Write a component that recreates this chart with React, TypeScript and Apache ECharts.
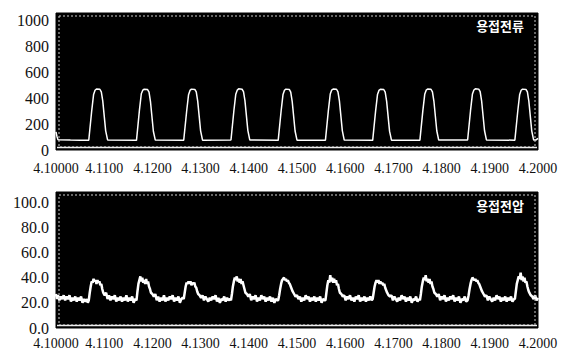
import React, { useEffect, useRef } from "react";
import * as echarts from "echarts";

const xTicks = [4.1, 4.2];
const currentTitle = "용접전류";
const voltageTitle = "용접전압";

const currentPoints: [number, number][] = [
  [4.1, 140], [4.1002, 105], [4.1004, 80], [4.103, 77], [4.105, 76],
  [4.1068, 76], [4.1074, 300], [4.1078, 430], [4.1081, 462], [4.1084, 472], [4.1091, 470], [4.1094, 450], [4.1097, 380], [4.1103, 150], [4.1107, 78],
  [4.1167, 75], [4.1173, 305], [4.1177, 435], [4.118, 463], [4.1183, 470], [4.119, 468], [4.1193, 448], [4.1196, 375], [4.1202, 145], [4.1206, 77],
  [4.1265, 76], [4.1271, 298], [4.1275, 428], [4.1278, 461], [4.1281, 471], [4.1288, 469], [4.1291, 449], [4.1294, 378], [4.13, 148], [4.1304, 76],
  [4.1363, 77], [4.1369, 302], [4.1373, 432], [4.1376, 463], [4.1379, 473], [4.1386, 470], [4.1389, 451], [4.1392, 382], [4.1398, 152], [4.1402, 78],
  [4.1461, 75], [4.1467, 300], [4.1471, 430], [4.1474, 462], [4.1477, 471], [4.1484, 469], [4.1487, 448], [4.149, 377], [4.1496, 147], [4.15, 76],
  [4.1559, 76], [4.1565, 303], [4.1569, 433], [4.1572, 464], [4.1575, 472], [4.1582, 470], [4.1585, 450], [4.1588, 380], [4.1594, 150], [4.1598, 77],
  [4.1657, 75], [4.1663, 299], [4.1667, 429], [4.167, 461], [4.1673, 470], [4.168, 468], [4.1683, 447], [4.1686, 376], [4.1692, 146], [4.1696, 76],
  [4.1755, 76], [4.1761, 301], [4.1765, 431], [4.1768, 463], [4.1771, 472], [4.1778, 470], [4.1781, 449], [4.1784, 379], [4.179, 149], [4.1794, 77],
  [4.1854, 77], [4.186, 304], [4.1864, 434], [4.1867, 464], [4.187, 473], [4.1877, 471], [4.188, 451], [4.1883, 381], [4.1889, 151], [4.1893, 78],
  [4.1952, 76], [4.1958, 300], [4.1962, 430], [4.1965, 462], [4.1968, 471], [4.1975, 469], [4.1978, 449], [4.1981, 378], [4.1987, 148], [4.1991, 77],
  [4.1996, 78], [4.2, 90],
];

const voltagePoints: [number, number][] = [
  [4.1, 27], [4.1002, 23], [4.1004, 26], [4.1007, 22], [4.101, 25], [4.1013, 23], [4.1016, 26], [4.1019, 22], [4.1022, 25], [4.1025, 23],
  [4.1028, 26], [4.1031, 21], [4.1034, 24], [4.1037, 22], [4.104, 25], [4.1043, 21], [4.1046, 24], [4.1049, 22], [4.1052, 25], [4.1055, 20],
  [4.1058, 23], [4.1061, 21], [4.1064, 23], [4.1066, 20],
  [4.1068, 22], [4.107, 28], [4.1072, 33], [4.1074, 37], [4.1076, 36], [4.1078, 39], [4.108, 37], [4.1082, 38], [4.1084, 35], [4.1086, 38],
  [4.1088, 36], [4.109, 37], [4.1092, 34], [4.1094, 35], [4.1096, 31], [4.1098, 28], [4.1101, 26], [4.1104, 28], [4.1107, 23], [4.111, 26],
  [4.1113, 22], [4.1116, 25], [4.1119, 23], [4.1122, 26], [4.1125, 21], [4.1128, 24], [4.1131, 22], [4.1134, 25], [4.1137, 21], [4.114, 24],
  [4.1143, 22], [4.1146, 26], [4.1149, 21], [4.1152, 24], [4.1155, 22], [4.1158, 25], [4.1161, 20], [4.1164, 23],
  [4.1167, 22], [4.1169, 29], [4.1171, 35], [4.1173, 38], [4.1175, 41], [4.1177, 37], [4.1179, 40], [4.1181, 36], [4.1183, 38], [4.1185, 35],
  [4.1187, 39], [4.1189, 35], [4.1191, 37], [4.1193, 33], [4.1195, 31], [4.1197, 28], [4.12, 27], [4.1203, 25], [4.1206, 27], [4.1209, 22],
  [4.1212, 25], [4.1215, 21], [4.1218, 24], [4.1221, 22], [4.1224, 26], [4.1227, 21], [4.123, 24], [4.1233, 22], [4.1236, 25], [4.1239, 23],
  [4.1242, 26], [4.1245, 21], [4.1248, 24], [4.1251, 22], [4.1254, 25], [4.1257, 20], [4.126, 23], [4.1263, 24],
  [4.1265, 23], [4.1267, 28], [4.1269, 33], [4.1271, 36], [4.1273, 35], [4.1275, 37], [4.1277, 35], [4.1279, 37], [4.1281, 34], [4.1283, 36],
  [4.1285, 35], [4.1287, 36], [4.1289, 33], [4.1291, 32], [4.1293, 29], [4.1295, 27], [4.1298, 26], [4.1301, 24], [4.1304, 26], [4.1307, 22],
  [4.131, 25], [4.1313, 23], [4.1316, 21], [4.1319, 24], [4.1322, 22], [4.1325, 25], [4.1328, 23], [4.1331, 26], [4.1334, 21], [4.1337, 24],
  [4.134, 20], [4.1343, 23], [4.1346, 22], [4.1349, 25], [4.1352, 21], [4.1355, 24], [4.1358, 22], [4.1361, 23],
  [4.1363, 22], [4.1365, 27], [4.1367, 33], [4.1369, 37], [4.1371, 40], [4.1373, 38], [4.1375, 41], [4.1377, 37], [4.1379, 39], [4.1381, 36],
  [4.1383, 39], [4.1385, 35], [4.1387, 37], [4.1389, 34], [4.1391, 31], [4.1393, 28], [4.1396, 27], [4.1399, 25], [4.1402, 27], [4.1405, 22],
  [4.1408, 25], [4.1411, 23], [4.1414, 26], [4.1417, 21], [4.142, 24], [4.1423, 22], [4.1426, 26], [4.1429, 23], [4.1432, 25], [4.1435, 21],
  [4.1438, 24], [4.1441, 22], [4.1444, 25], [4.1447, 21], [4.145, 24], [4.1453, 20], [4.1456, 23], [4.1459, 22],
  [4.1461, 22], [4.1463, 26], [4.1465, 31], [4.1467, 35], [4.1469, 38], [4.1471, 39], [4.1473, 40], [4.1475, 38], [4.1477, 39], [4.1479, 37],
  [4.1481, 38], [4.1483, 36], [4.1485, 35], [4.1487, 33], [4.1489, 31], [4.1491, 29], [4.1494, 27], [4.1497, 25], [4.15, 26], [4.1503, 23],
  [4.1506, 25], [4.1509, 21], [4.1512, 24], [4.1515, 22], [4.1518, 26], [4.1521, 23], [4.1524, 25], [4.1527, 21], [4.153, 24], [4.1533, 22],
  [4.1536, 25], [4.1539, 21], [4.1542, 24], [4.1545, 22], [4.1548, 25], [4.1551, 20], [4.1554, 23], [4.1557, 22],
  [4.1559, 22], [4.1561, 28], [4.1563, 34], [4.1565, 38], [4.1567, 36], [4.1569, 42], [4.1571, 37], [4.1573, 40], [4.1575, 36], [4.1577, 39],
  [4.1579, 36], [4.1581, 38], [4.1583, 34], [4.1585, 35], [4.1587, 31], [4.1589, 28], [4.1592, 27], [4.1595, 25], [4.1598, 26], [4.1601, 22],
  [4.1604, 25], [4.1607, 23], [4.161, 26], [4.1613, 22], [4.1616, 24], [4.1619, 21], [4.1622, 25], [4.1625, 23], [4.1628, 26], [4.1631, 21],
  [4.1634, 24], [4.1637, 22], [4.164, 25], [4.1643, 21], [4.1646, 24], [4.1649, 22], [4.1652, 25], [4.1655, 22],
  [4.1657, 23], [4.1659, 28], [4.1661, 33], [4.1663, 36], [4.1665, 38], [4.1667, 36], [4.1669, 38], [4.1671, 35], [4.1673, 37], [4.1675, 35],
  [4.1677, 36], [4.1679, 34], [4.1681, 35], [4.1683, 32], [4.1685, 30], [4.1687, 28], [4.169, 26], [4.1693, 25], [4.1696, 26], [4.1699, 22],
  [4.1702, 25], [4.1705, 23], [4.1708, 21], [4.1711, 24], [4.1714, 22], [4.1717, 26], [4.172, 23], [4.1723, 25], [4.1726, 21], [4.1729, 24],
  [4.1732, 22], [4.1735, 25], [4.1738, 20], [4.1741, 23], [4.1744, 22], [4.1747, 25], [4.175, 21], [4.1753, 23],
  [4.1755, 22], [4.1757, 27], [4.1759, 33], [4.1761, 37], [4.1763, 40], [4.1765, 38], [4.1767, 42], [4.1769, 37], [4.1771, 39], [4.1773, 36],
  [4.1775, 39], [4.1777, 35], [4.1779, 37], [4.1781, 33], [4.1783, 31], [4.1785, 28], [4.1788, 27], [4.1791, 25], [4.1794, 27], [4.1797, 22],
  [4.18, 25], [4.1803, 23], [4.1806, 26], [4.1809, 21], [4.1812, 24], [4.1815, 22], [4.1818, 25], [4.1821, 23], [4.1824, 26], [4.1827, 21],
  [4.183, 24], [4.1833, 22], [4.1836, 25], [4.1839, 20], [4.1842, 23], [4.1845, 22], [4.1848, 25], [4.1851, 21],
  [4.1854, 22], [4.1856, 26], [4.1858, 31], [4.186, 35], [4.1862, 38], [4.1864, 40], [4.1866, 39], [4.1868, 38], [4.187, 39], [4.1872, 37],
  [4.1874, 38], [4.1876, 36], [4.1878, 35], [4.188, 33], [4.1882, 31], [4.1884, 29], [4.1887, 27], [4.189, 25], [4.1893, 26], [4.1896, 22],
  [4.1899, 25], [4.1902, 23], [4.1905, 21], [4.1908, 24], [4.1911, 22], [4.1914, 26], [4.1917, 23], [4.192, 25], [4.1923, 21], [4.1926, 24],
  [4.1929, 22], [4.1932, 25], [4.1935, 21], [4.1938, 24], [4.1941, 22], [4.1944, 25], [4.1947, 21], [4.195, 23],
  [4.1952, 23], [4.1954, 29], [4.1956, 35], [4.1958, 38], [4.196, 41], [4.1962, 39], [4.1964, 44], [4.1966, 38], [4.1968, 41], [4.197, 37],
  [4.1972, 40], [4.1974, 36], [4.1976, 37], [4.1978, 33], [4.198, 30], [4.1982, 28], [4.1985, 26], [4.1988, 25], [4.1991, 23], [4.1994, 26],
  [4.1997, 22], [4.2, 24],
];

const FONT = "Liberation Serif";

export default function App() {
  const ref = useRef<HTMLDivElement>(null);
  useEffect(() => {
    if (!ref.current) return;
    const chart = echarts.init(ref.current, null, { renderer: "svg" });
    const xFmt = (v: number) => (Math.abs(v - xTicks[0]) < 1e-9 ? v.toFixed(5) : v.toFixed(4));
    const baseX = (gridIndex: number, margin: number) => ({
      type: "value",
      gridIndex,
      min: xTicks[0],
      max: xTicks[1],
      interval: 0.01,
      axisLine: { show: false },
      axisTick: { show: false },
      splitLine: { show: false },
      axisLabel: { color: "#111", fontFamily: FONT, fontSize: 14, margin, formatter: xFmt },
    });
    chart.setOption({
      animation: false,
      backgroundColor: "#fff",
      title: [
        {
          text: currentTitle,
          right: 38,
          top: 14,
          textStyle: { color: "#fff", fontSize: 13, fontWeight: "bold", fontFamily: "Noto Sans CJK KR" },
        },
        {
          text: voltageTitle,
          right: 38,
          top: 194,
          textStyle: { color: "#fff", fontSize: 13, fontWeight: "bold", fontFamily: "Noto Sans CJK KR" },
        },
      ],
      grid: [
        { left: 56, top: 13, width: 482, height: 137, show: true, backgroundColor: "#000", borderColor: "#000", borderWidth: 1 },
        { left: 56, top: 192, width: 482, height: 136, show: true, backgroundColor: "#000", borderColor: "#000", borderWidth: 1 },
      ],
      graphic: [
        { type: "rect", shape: { x: 59, y: 16, width: 476, height: 131 }, style: { fill: "none", stroke: "#ccc", lineWidth: 1, lineDash: [2, 2] }, z: 10 },
        { type: "line", shape: { x1: 57, y1: 147.5, x2: 537, y2: 147.5 }, style: { stroke: "#eee", lineWidth: 1.5 }, z: 10 },
        { type: "rect", shape: { x: 59, y: 195, width: 476, height: 130 }, style: { fill: "none", stroke: "#ccc", lineWidth: 1, lineDash: [2, 2] }, z: 10 },
        { type: "line", shape: { x1: 57, y1: 325.5, x2: 537, y2: 325.5 }, style: { stroke: "#eee", lineWidth: 1.5 }, z: 10 },
      ],
      xAxis: [baseX(0, 11), baseX(1, 8)],
      yAxis: [
        {
          type: "value",
          gridIndex: 0,
          min: 0,
          max: 1060,
          interval: 200,
          axisLine: { show: false },
          axisTick: { show: false },
          splitLine: { show: false },
          axisLabel: {
            color: "#111",
            fontFamily: FONT,
            fontSize: 16,
            margin: 7,
            formatter: (v: number) => (v > 1000 ? "" : String(v)),
          },
        },
        {
          type: "value",
          gridIndex: 1,
          min: 0,
          max: 108,
          interval: 20,
          axisLine: { show: false },
          axisTick: { show: false },
          splitLine: { show: false },
          axisLabel: {
            color: "#111",
            fontFamily: FONT,
            fontSize: 16,
            margin: 7,
            formatter: (v: number) => (v > 100 ? "" : v.toFixed(1)),
          },
        },
      ],
      series: [
        {
          type: "line",
          xAxisIndex: 0,
          yAxisIndex: 0,
          data: currentPoints,
          showSymbol: false,
          lineStyle: { color: "#fff", width: 1.5 },
          z: 5,
        },
        {
          type: "line",
          xAxisIndex: 1,
          yAxisIndex: 1,
          data: voltagePoints,
          showSymbol: false,
          lineStyle: { color: "#fff", width: 2.5 },
          z: 5,
        },
      ],
    });
    return () => chart.dispose();
  }, []);
  return (
    <div
      ref={ref}
      style={{ position: "fixed", left: 0, top: 0, width: 567, height: 353, background: "#fff" }}
    />
  );
}
